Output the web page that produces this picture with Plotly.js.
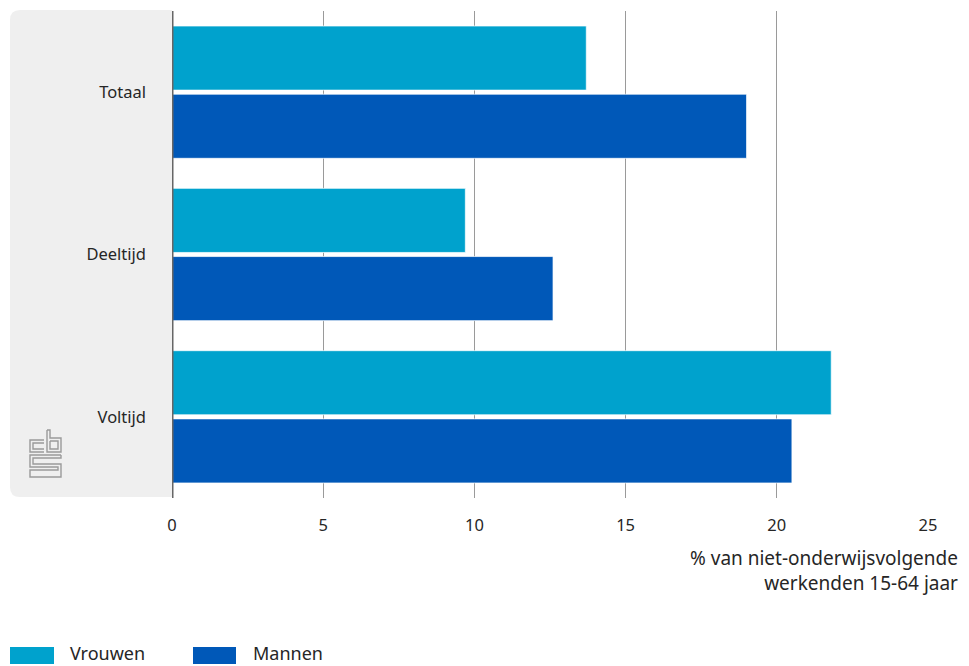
<!DOCTYPE html>
<html><head><meta charset="utf-8">
<script src="https://cdn.plot.ly/plotly-3.0.1.min.js"></script>
<style>html,body{margin:0;padding:0;background:#fff}</style>
</head><body><div id="chart" style="width:969px;height:666px"></div>
<script>
const categories = ["Totaal", "Deeltijd", "Voltijd"];
const seriesNames = ["Vrouwen", "Mannen"];
const vrouwen = [13.7, 9.7, 21.8];
const mannen = [19.0, 12.6, 20.5];
const xTicks = [0, 5, 10, 15, 20, 25];
const axisTitle = "% van niet-onderwijsvolgende<br>werkenden 15-64 jaar";

const colors = ["#00a2cd", "#0058b8"];
const W = 969, H = 666, L = 172, R = 41, T = 11, B = 168;
const pw = W - L - R, ph = H - T - B;
const px = x => (x - L) / pw;
const py = y => (H - B - y) / ph;
function path(pts) {
  return pts.map((p, i) => (i ? "L" : "M") + px(p[0]).toFixed(5) + "," + py(p[1]).toFixed(5)).join(" ");
}

const fam = "Noto Sans, Open Sans, sans-serif";
const txt = "#262626";
const font = {family: fam, size: 16.5, color: txt};

const traces = [vrouwen, mannen].map((vals, i) => ({
  type: "bar", orientation: "h", name: seriesNames[i],
  y: categories, x: vals,
  marker: {color: colors[i], line: {color: "rgba(255,255,255,0.7)", width: 1}},
  hoverinfo: "x+name", showlegend: false
}));

const x0 = 10, x1 = 172, y0 = 10, y1 = 497, r = 10;
const panelPath = "M" + px(x1) + "," + py(y0) +
  " L" + px(x0 + r) + "," + py(y0) +
  " Q" + px(x0) + "," + py(y0) + " " + px(x0) + "," + py(y0 + r) +
  " L" + px(x0) + "," + py(y1 - r) +
  " Q" + px(x0) + "," + py(y1) + " " + px(x0 + r) + "," + py(y1) +
  " L" + px(x1) + "," + py(y1) + " Z";

const logoColor = "#9a9a9a";
const logoPaths = [
  [[44,440],[30,440],[30,452],[44,452]],
  [[44,443],[33,443],[33,449],[44,449]],
  [[47,430],[50,430],[50,438],[61,438],[61,452],[47,452],[47,430]],
  [[50,441],[58,441],[58,449],[50,449],[50,441]],
  [[61,455],[30,455],[30,467],[58,467],[58,470],[30,470],[30,477],[61,477],[61,464],[33,464],[33,458],[61,458],[61,455]]
];

const shapes = [
  {type: "path", xref: "paper", yref: "paper", path: panelPath, fillcolor: "#efefef", line: {width: 0}, layer: "below"},
  ...logoPaths.map(p => ({type: "path", xref: "paper", yref: "paper", path: path(p), line: {color: logoColor, width: 1.4}})),
  {type: "rect", xref: "paper", yref: "paper", x0: px(10), x1: px(54), y0: py(647), y1: py(664), fillcolor: colors[0], line: {width: 0}},
  {type: "rect", xref: "paper", yref: "paper", x0: px(193), x1: px(236), y0: py(647), y1: py(664), fillcolor: colors[1], line: {width: 0}},
  {type: "line", xref: "x", yref: "paper", x0: 0, x1: 0, y0: 0, y1: 1, line: {color: "#666", width: 3}}
];

const annotations = [
  {xref: "paper", yref: "paper", x: px(960), y: py(543), xanchor: "right", yanchor: "top", align: "right",
   showarrow: false, text: axisTitle, font: {family: fam, size: 19, color: txt}},
  {xref: "paper", yref: "paper", x: px(68), y: py(653), xanchor: "left", yanchor: "middle", showarrow: false,
   text: seriesNames[0], font: {family: fam, size: 18, color: txt}},
  {xref: "paper", yref: "paper", x: px(251), y: py(653), xanchor: "left", yanchor: "middle", showarrow: false,
   text: seriesNames[1], font: {family: fam, size: 18, color: txt}}
];

const layout = {
  width: W, height: H,
  margin: {l: L, r: R, t: T, b: B, pad: 0},
  paper_bgcolor: "#fff", plot_bgcolor: "rgba(0,0,0,0)",
  barmode: "group", bargap: 0.16, bargroupgap: 0.06,
  font: font,
  showlegend: false,
  xaxis: {range: [0, 25], tickvals: xTicks, ticktext: xTicks.map(String),
    showgrid: true, gridcolor: "#9a9a9a", gridwidth: 1, zeroline: false,
    showline: false, ticks: "", ticklabelstandoff: 15, fixedrange: true, tickfont: font},
  yaxis: {autorange: "reversed", showgrid: false, zeroline: false, showline: false,
    ticks: "", ticklabelstandoff: 25, tickfont: font},
  shapes: shapes,
  annotations: annotations
};

Plotly.newPlot("chart", traces, layout, {displayModeBar: false, staticPlot: true});
</script>
</body></html>
